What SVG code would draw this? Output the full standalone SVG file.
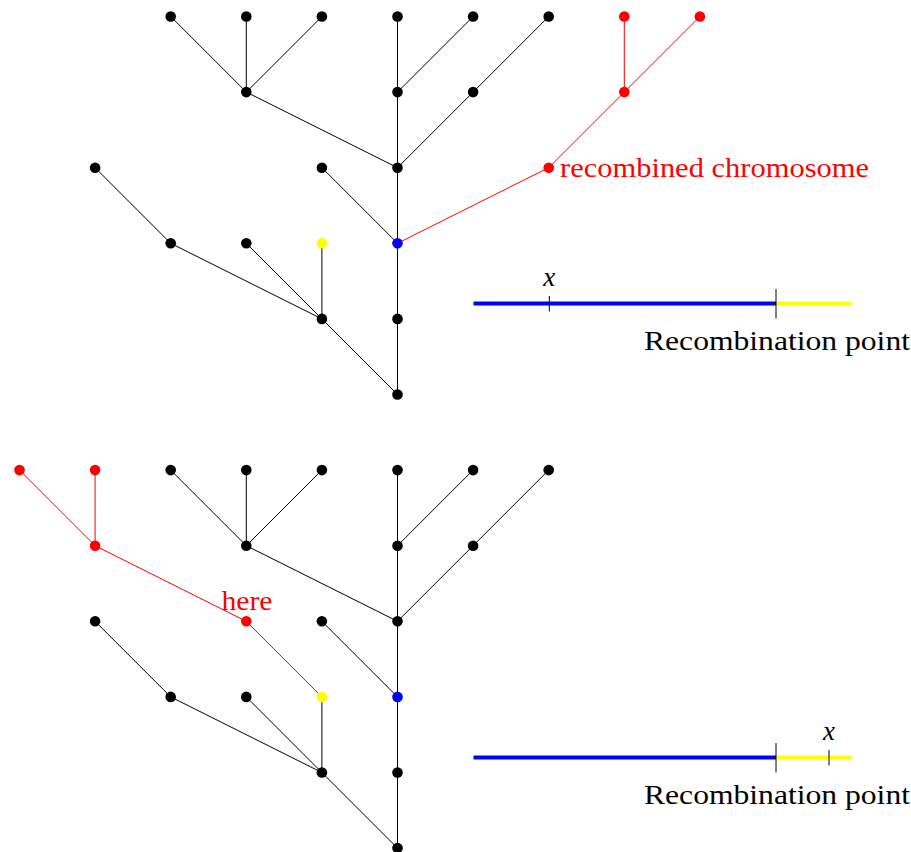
<svg xmlns="http://www.w3.org/2000/svg" width="911" height="852" viewBox="0 0 911 852">
<style>
.e{stroke:#000;stroke-width:1;fill:none}
.er{stroke:#ff0000;stroke-width:1;fill:none}
.n{fill:#000}
.nr{fill:#ff0000}
.ny{fill:#ffff00}
.nb{fill:#0000ff}
.t{font-family:"Liberation Serif","Times New Roman",serif;font-size:27px;fill:#000}
.tr{font-family:"Liberation Serif","Times New Roman",serif;font-size:27px;fill:#ff0000}
.ti{font-family:"Liberation Serif","Times New Roman",serif;font-size:27px;font-style:italic;fill:#000}
.thk{stroke-width:4;fill:none}
.tick{stroke:#000;stroke-width:1}
</style>
<rect width="911" height="852" fill="#fff"/>
<g id="connectors">
<!-- top tree -->
<line class="e" x1="170.7" y1="16.5" x2="246.3" y2="92.1"/>
<line class="e" x1="246.3" y1="16.5" x2="246.3" y2="92.1"/>
<line class="e" x1="321.9" y1="16.5" x2="246.3" y2="92.1"/>
<line class="e" x1="397.5" y1="16.5" x2="397.5" y2="92.1"/>
<line class="e" x1="473.1" y1="16.5" x2="397.5" y2="92.1"/>
<line class="e" x1="548.7" y1="16.5" x2="473.1" y2="92.1"/>
<line class="e" x1="246.3" y1="92.1" x2="397.5" y2="167.7"/>
<line class="e" x1="397.5" y1="92.1" x2="397.5" y2="167.7"/>
<line class="e" x1="473.1" y1="92.1" x2="397.5" y2="167.7"/>
<line class="e" x1="95.1" y1="167.7" x2="170.7" y2="243.3"/>
<line class="e" x1="321.9" y1="167.7" x2="397.5" y2="243.3"/>
<line class="e" x1="397.5" y1="167.7" x2="397.5" y2="243.3"/>
<line class="e" x1="170.7" y1="243.3" x2="321.9" y2="318.9"/>
<line class="e" x1="246.3" y1="243.3" x2="321.9" y2="318.9"/>
<line class="e" x1="321.9" y1="243.3" x2="321.9" y2="318.9"/>
<line class="e" x1="397.5" y1="243.3" x2="397.5" y2="318.9"/>
<line class="e" x1="321.9" y1="318.9" x2="397.5" y2="394.5"/>
<line class="e" x1="397.5" y1="318.9" x2="397.5" y2="394.5"/>
<line class="er" x1="624.3" y1="16.5" x2="624.3" y2="92.1"/>
<line class="er" x1="699.9" y1="16.5" x2="624.3" y2="92.1"/>
<line class="er" x1="624.3" y1="92.1" x2="548.7" y2="167.7"/>
<line class="er" x1="548.7" y1="167.7" x2="397.5" y2="243.3"/>
<!-- bottom tree -->
<line class="e" x1="170.7" y1="470.1" x2="246.3" y2="545.7"/>
<line class="e" x1="246.3" y1="470.1" x2="246.3" y2="545.7"/>
<line class="e" x1="321.9" y1="470.1" x2="246.3" y2="545.7"/>
<line class="e" x1="397.5" y1="470.1" x2="397.5" y2="545.7"/>
<line class="e" x1="473.1" y1="470.1" x2="397.5" y2="545.7"/>
<line class="e" x1="548.7" y1="470.1" x2="473.1" y2="545.7"/>
<line class="e" x1="246.3" y1="545.7" x2="397.5" y2="621.3"/>
<line class="e" x1="397.5" y1="545.7" x2="397.5" y2="621.3"/>
<line class="e" x1="473.1" y1="545.7" x2="397.5" y2="621.3"/>
<line class="e" x1="95.1" y1="621.3" x2="170.7" y2="696.9"/>
<line class="e" x1="321.9" y1="621.3" x2="397.5" y2="696.9"/>
<line class="e" x1="397.5" y1="621.3" x2="397.5" y2="696.9"/>
<line class="e" x1="170.7" y1="696.9" x2="321.9" y2="772.5"/>
<line class="e" x1="246.3" y1="696.9" x2="321.9" y2="772.5"/>
<line class="e" x1="321.9" y1="696.9" x2="321.9" y2="772.5"/>
<line class="e" x1="397.5" y1="696.9" x2="397.5" y2="772.5"/>
<line class="e" x1="321.9" y1="772.5" x2="397.5" y2="848.1"/>
<line class="e" x1="397.5" y1="772.5" x2="397.5" y2="848.1"/>
<line class="er" x1="19.5" y1="470.1" x2="95.1" y2="545.7"/>
<line class="er" x1="95.1" y1="470.1" x2="95.1" y2="545.7"/>
<line class="er" x1="95.1" y1="545.7" x2="246.3" y2="621.3"/>
<line class="er" x1="246.3" y1="621.3" x2="321.9" y2="696.9"/>
</g>
<!-- top tree nodes -->
<g id="t-r0-c2"><circle class="n" cx="170.7" cy="16.5" r="5.3"/></g>
<g id="t-r0-c3"><circle class="n" cx="246.3" cy="16.5" r="5.3"/></g>
<g id="t-r0-c4"><circle class="n" cx="321.9" cy="16.5" r="5.3"/></g>
<g id="t-r0-c5"><circle class="n" cx="397.5" cy="16.5" r="5.3"/></g>
<g id="t-r0-c6"><circle class="n" cx="473.1" cy="16.5" r="5.3"/></g>
<g id="t-r0-c7"><circle class="n" cx="548.7" cy="16.5" r="5.3"/></g>
<g id="t-r0-c8"><circle class="nr" cx="624.3" cy="16.5" r="5.3"/></g>
<g id="t-r0-c9"><circle class="nr" cx="699.9" cy="16.5" r="5.3"/></g>
<g id="t-r1-c3"><circle class="n" cx="246.3" cy="92.1" r="5.3"/></g>
<g id="t-r1-c5"><circle class="n" cx="397.5" cy="92.1" r="5.3"/></g>
<g id="t-r1-c6"><circle class="n" cx="473.1" cy="92.1" r="5.3"/></g>
<g id="t-r1-c8"><circle class="nr" cx="624.3" cy="92.1" r="5.3"/></g>
<g id="t-r2-c1"><circle class="n" cx="95.1" cy="167.7" r="5.3"/></g>
<g id="t-r2-c4"><circle class="n" cx="321.9" cy="167.7" r="5.3"/></g>
<g id="t-r2-c5"><circle class="n" cx="397.5" cy="167.7" r="5.3"/></g>
<g id="t-r2-c7"><circle class="nr" cx="548.7" cy="167.7" r="5.3"/><text class="tr" x="560" y="177" textLength="309" lengthAdjust="spacingAndGlyphs">recombined chromosome</text></g>
<g id="t-r3-c2"><circle class="n" cx="170.7" cy="243.3" r="5.3"/></g>
<g id="t-r3-c3"><circle class="n" cx="246.3" cy="243.3" r="5.3"/></g>
<g id="t-r3-c4"><circle class="ny" cx="321.9" cy="243.3" r="5.3"/></g>
<g id="t-r3-c5"><circle class="nb" cx="397.5" cy="243.3" r="5.3"/></g>
<g id="t-r4-c4"><circle class="n" cx="321.9" cy="318.9" r="5.3"/></g>
<g id="t-r4-c5"><circle class="n" cx="397.5" cy="318.9" r="5.3"/></g>
<g id="t-r5-c5"><circle class="n" cx="397.5" cy="394.5" r="5.3"/></g>
<!-- top chromosome bar -->
<g id="t-bar">
<line class="thk" stroke="#0000ff" x1="473.5" y1="303.5" x2="776" y2="303.5"/>
<line class="thk" stroke="#ffff00" x1="776" y1="303.5" x2="851.5" y2="303.5"/>
<line class="tick" x1="549.3" y1="296" x2="549.3" y2="311.5"/>
<line class="tick" x1="776" y1="289" x2="776" y2="318.5"/>
<text class="ti" x="549.3" y="286" text-anchor="middle">x</text>
<text class="t" x="644" y="350" textLength="266" lengthAdjust="spacingAndGlyphs">Recombination point</text>
</g>
<!-- bottom tree nodes -->
<g id="b-r0-c0"><circle class="nr" cx="19.5" cy="470.1" r="5.3"/></g>
<g id="b-r0-c1"><circle class="nr" cx="95.1" cy="470.1" r="5.3"/></g>
<g id="b-r0-c2"><circle class="n" cx="170.7" cy="470.1" r="5.3"/></g>
<g id="b-r0-c3"><circle class="n" cx="246.3" cy="470.1" r="5.3"/></g>
<g id="b-r0-c4"><circle class="n" cx="321.9" cy="470.1" r="5.3"/></g>
<g id="b-r0-c5"><circle class="n" cx="397.5" cy="470.1" r="5.3"/></g>
<g id="b-r0-c6"><circle class="n" cx="473.1" cy="470.1" r="5.3"/></g>
<g id="b-r0-c7"><circle class="n" cx="548.7" cy="470.1" r="5.3"/></g>
<g id="b-r1-c1"><circle class="nr" cx="95.1" cy="545.7" r="5.3"/></g>
<g id="b-r1-c3"><circle class="n" cx="246.3" cy="545.7" r="5.3"/></g>
<g id="b-r1-c5"><circle class="n" cx="397.5" cy="545.7" r="5.3"/></g>
<g id="b-r1-c6"><circle class="n" cx="473.1" cy="545.7" r="5.3"/></g>
<g id="b-r2-c1"><circle class="n" cx="95.1" cy="621.3" r="5.3"/></g>
<g id="b-r2-c3"><circle class="nr" cx="246.3" cy="621.3" r="5.3"/><text class="tr" x="247" y="610" text-anchor="middle" textLength="51" lengthAdjust="spacingAndGlyphs">here</text></g>
<g id="b-r2-c4"><circle class="n" cx="321.9" cy="621.3" r="5.3"/></g>
<g id="b-r2-c5"><circle class="n" cx="397.5" cy="621.3" r="5.3"/></g>
<g id="b-r3-c2"><circle class="n" cx="170.7" cy="696.9" r="5.3"/></g>
<g id="b-r3-c3"><circle class="n" cx="246.3" cy="696.9" r="5.3"/></g>
<g id="b-r3-c4"><circle class="ny" cx="321.9" cy="696.9" r="5.3"/></g>
<g id="b-r3-c5"><circle class="nb" cx="397.5" cy="696.9" r="5.3"/></g>
<g id="b-r4-c4"><circle class="n" cx="321.9" cy="772.5" r="5.3"/></g>
<g id="b-r4-c5"><circle class="n" cx="397.5" cy="772.5" r="5.3"/></g>
<g id="b-r5-c5"><circle class="n" cx="397.5" cy="848.1" r="5.3"/></g>
<!-- bottom chromosome bar -->
<g id="b-bar">
<line class="thk" stroke="#0000ff" x1="473.5" y1="757.5" x2="776" y2="757.5"/>
<line class="thk" stroke="#ffff00" x1="776" y1="757.5" x2="851.5" y2="757.5"/>
<line class="tick" x1="829" y1="750" x2="829" y2="765.5"/>
<line class="tick" x1="776" y1="743" x2="776" y2="772.5"/>
<text class="ti" x="829" y="740" text-anchor="middle">x</text>
<text class="t" x="644" y="804" textLength="266" lengthAdjust="spacingAndGlyphs">Recombination point</text>
</g>
</svg>
